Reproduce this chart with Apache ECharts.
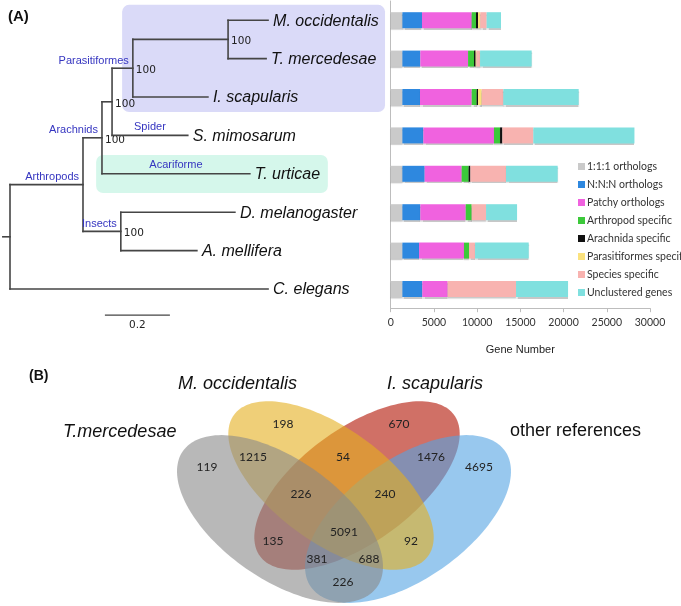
<!DOCTYPE html>
<html><head><meta charset="utf-8">
<script src="https://cdn.jsdelivr.net/npm/echarts@6/dist/echarts.min.js"></script>
<style>html,body{margin:0;padding:0;background:#fff}#c{width:681px;height:606px}</style>
</head><body><div id="c"></div>
<script>
// ---------------- Panel A: stacked bars ----------------
const species = ['M. occidentalis','T. mercedesae','I. scapularis','S. mimosarum','T. urticae','D. melanogaster','A. mellifera','C. elegans'];
const categories = ['1:1:1 orthologs','N:N:N orthologs','Patchy orthologs','Arthropod specific','Arachnida specific','Parasitiformes specific','Species specific','Unclustered genes'];
const ortho111 = [1350,1350,1350,1350,1350,1350,1350,1350];
const orthoNNN = [2270,2080,2040,2430,2580,2080,1930,2310];
const patchy = [5750,5520,5980,8170,4280,5250,5200,2930];
const arthropodSpecific = [500,690,580,700,810,690,580,0];
const arachnidaSpecific = [230,190,150,270,200,0,0,0];
const parasitiformesSpecific = [270,110,430,0,0,0,0,0];
const speciesSpecific = [730,400,2500,3580,4120,1660,700,7910];
const unclustered = [1660,5970,8720,11700,5980,3590,6210,6020];
const xTicks = [0,5000,10000,15000,20000,25000,30000];

// ---------------- Panel A: tree ----------------
const nodeName   = ['root','Arthropods','Arachnids','ParaSpider','Parasitiformes','Mites','Insects',
                    'M. occidentalis','T. mercedesae','I. scapularis','S. mimosarum','T. urticae','D. melanogaster','A. mellifera','C. elegans'];
const nodeParent = [-1,0,1,2,3,4,1,5,5,4,3,2,6,6,0];
const nodeDepth  = [0,0.2246,0.283,0.314,0.378,0.671,0.341,0.794,0.788,0.609,0.547,0.738,0.692,0.575,0.794];
const nodeSupport= [null,null,'100','100','100','100','100',null,null,null,null,null,null,null,null];
const cladeLabels = [ // [text, node index, placement]
  ['Parasitiformes',4,'node'],['Arachnids',2,'node'],['Arthropods',1,'node'],['Insects',6,'node'],
  ['Spider',10,'branch'],['Acariforme',11,'branch']
];
const scaleBarLength = 0.2;

// ---------------- Panel B: Venn ----------------
const vennSets = ['T.mercedesae','M. occidentalis','I. scapularis','other references'];
const vennCounts = [119,198,670,4695,1215,54,1476,226,240,5091,135,92,381,688,226];

// ---------------- layout / style ----------------
const barColors = ['#cacaca','#2e88df','#f062df','#3cc93a','#111111','#fbe27e','#f8b3b0','#80e0df'];
const leafRow = {7:0,8:1,9:2,10:3,11:4,12:5,13:6,14:7};
const rootStub = -0.022;
const boxes = [ // [x0,x1,row0,row1,color]
  [0.345,1.154,-0.40,2.39,'#dadaf8'],
  [0.265,0.978,3.51,4.50,'#d5f7eb']
];
const scaleBarPos = [0.292,7.68];
// ellipse geometry in venn-grid units: [cx, cy, a, b, rotationDeg, fill]
const vennGeom = {
  'I. scapularis':    [2.13,1.205,1.20,0.57, 36,'rgba(177,17,0,0.6)'],
  'other references': [2.64,0.87, 1.185,0.60, 35,'rgba(83,163,227,0.6)'],
  'M. occidentalis':  [1.87,1.205,1.20,0.57,-36,'rgba(228,175,30,0.6)'],
  'T.mercedesae':     [1.36,0.87, 1.185,0.60,-35,'rgba(137,137,137,0.6)']
};
const vennDrawOrder = ['I. scapularis','other references','M. occidentalis','T.mercedesae'];
const vennLabelPos = [[0.63,1.39],[1.39,1.82],[2.55,1.82],[3.35,1.39],[1.09,1.49],[1.99,1.49],[2.87,1.49],
  [1.57,1.12],[2.41,1.12],[2.0,0.74],[1.29,0.65],[2.67,0.65],[1.73,0.47],[2.25,0.47],[1.99,0.24]];

// compute rows of internal nodes
const nodeRow = [];
const children = nodeName.map(()=>[]);
nodeParent.forEach((p,i)=>{ if(p>=0) children[p].push(i); });
function rowOf(i){
  if(nodeRow[i]!==undefined) return nodeRow[i];
  if(children[i].length===0){ nodeRow[i]=leafRow[i]; return nodeRow[i]; }
  const rs = children[i].map(rowOf);
  nodeRow[i] = (Math.min(...rs)+Math.max(...rs))/2;
  return nodeRow[i];
}
nodeName.forEach((_,i)=>rowOf(i));

const LINE = '#454545';
function txt(x,y,text,font,fill,align,valign){
  return {type:'text',style:{x:x,y:y,text:text,font:font,fill:fill,align:align,verticalAlign:valign,textAlign:align,textVerticalAlign:valign}};
}

function renderTree(params, api){
  const i = params.dataIndex;
  const els = [];
  const p = nodeParent[i];
  const d = nodeDepth[i], r = nodeRow[i];
  const pd = p>=0 ? nodeDepth[p] : rootStub;
  const a = api.coord([pd,r]), b = api.coord([d,r]);
  els.push({type:'line',shape:{x1:a[0],y1:a[1],x2:b[0],y2:b[1]},style:{stroke:LINE,lineWidth:1.6,lineCap:'square'}});
  if(children[i].length){
    const rs = children[i].map(c=>nodeRow[c]);
    const t = api.coord([d,Math.min(...rs)]), u = api.coord([d,Math.max(...rs)]);
    els.push({type:'line',shape:{x1:t[0],y1:t[1],x2:u[0],y2:u[1]},style:{stroke:LINE,lineWidth:1.6,lineCap:'square'}});
  } else {
    els.push(txt(b[0]+5,b[1]+1,nodeName[i],'italic 16px "Liberation Sans", Arial, sans-serif','#111','left','middle'));
  }
  if(nodeSupport[i]) els.push(txt(b[0]+3,b[1]+2,nodeSupport[i],'10.5px "DejaVu Sans", sans-serif','#222','left','middle'));
  cladeLabels.forEach(c=>{
    if(c[1]!==i) return;
    if(c[2]==='node') els.push(txt(b[0]-4,b[1]-2,c[0],'11px "Liberation Sans", Arial, sans-serif','#3535c0','right','bottom'));
    else els.push(txt((a[0]+b[0])/2,b[1]-3,c[0],'11px "Liberation Sans", Arial, sans-serif','#3535c0','center','bottom'));
  });
  return {type:'group',children:els};
}
function renderBoxes(params, api){
  const bx = boxes[params.dataIndex];
  const p0 = api.coord([bx[0],bx[2]]), p1 = api.coord([bx[1],bx[3]]);
  return {type:'rect',shape:{x:p0[0],y:p0[1],width:p1[0]-p0[0],height:p1[1]-p0[1],r:7},style:{fill:bx[4]}};
}
function renderScale(params, api){
  const p0 = api.coord(scaleBarPos), p1 = api.coord([scaleBarPos[0]+scaleBarLength,scaleBarPos[1]]);
  return {type:'group',children:[
    {type:'line',shape:{x1:p0[0],y1:p0[1],x2:p1[0],y2:p1[1]},style:{stroke:LINE,lineWidth:1.4}},
    txt((p0[0]+p1[0])/2,p0[1]+5,String(scaleBarLength),'10.5px "DejaVu Sans", sans-serif','#222','center','top')
  ]};
}
function renderVenn(params, api){
  const g = vennGeom[vennDrawOrder[params.dataIndex]];
  const th = g[4]*Math.PI/180, pts=[];
  for(let k=0;k<160;k++){
    const t = k/160*2*Math.PI;
    const x = g[0] + g[2]*Math.cos(t)*Math.cos(th) - g[3]*Math.sin(t)*Math.sin(th);
    const y = g[1] + g[2]*Math.cos(t)*Math.sin(th) + g[3]*Math.sin(t)*Math.cos(th);
    pts.push(api.coord([x,y]));
  }
  return {type:'polygon',shape:{points:pts},style:{fill:g[5]}};
}
function renderVennText(params, api){
  const i = params.dataIndex;
  const p = api.coord(vennLabelPos[i]);
  return txt(p[0],p[1],String(vennCounts[i]),'12px Lato, "Open Sans", sans-serif','#222','center','middle');
}

const barSeries = [ortho111,orthoNNN,patchy,arthropodSpecific,arachnidaSpecific,parasitiformesSpecific,speciesSpecific,unclustered]
  .map((d,k)=>({name:categories[k],type:'bar',stack:'genes',xAxisIndex:1,yAxisIndex:1,barWidth:16,data:d,
    itemStyle:{color:barColors[k],shadowColor:'rgba(0,0,0,0.22)',shadowOffsetY:1.5,shadowBlur:1}}));

const chart = echarts.init(document.getElementById('c'),null,{renderer:'canvas'});
chart.setOption({
  animation:false,
  backgroundColor:'#fff',
  grid:[
    {left:3.5,top:1,width:396.5,height:307.2},
    {left:390.7,top:1,width:259.3,height:307.2},
    {left:144,top:380,width:400,height:226}
  ],
  xAxis:[
    {gridIndex:0,type:'value',min:-0.02,max:1.2,show:false},
    {gridIndex:1,type:'value',min:xTicks[0],max:xTicks[xTicks.length-1],interval:xTicks[1]-xTicks[0],
      axisLine:{show:true,lineStyle:{color:'#bdbdbd'}},axisTick:{show:true,length:4,lineStyle:{color:'#bdbdbd'}},
      splitLine:{show:false},axisLabel:{color:'#333',fontSize:10.5,fontFamily:'Lato',margin:9,formatter:v=>String(v)},
      name:'Gene Number',nameLocation:'middle',nameGap:36,nameTextStyle:{fontFamily:'Liberation Sans',fontSize:11,color:'#222'}},
    {gridIndex:2,type:'value',min:0,max:4,show:false}
  ],
  yAxis:[
    {gridIndex:0,type:'value',min:-0.5,max:7.5,inverse:true,show:false},
    {gridIndex:1,type:'category',data:species,inverse:true,axisLine:{lineStyle:{color:'#bdbdbd'}},
      axisTick:{length:4,lineStyle:{color:'#bdbdbd'}},axisLabel:{show:false}},
    {gridIndex:2,type:'value',min:0,max:2.26,show:false}
  ],
  legend:{data:categories,orient:'vertical',left:573,top:156,itemWidth:7,itemHeight:7,itemGap:7,icon:'rect',
    textStyle:{fontFamily:'Lato',fontSize:10.5,color:'#333',lineHeight:11,padding:[0,0,0,-3]}},
  graphic:[
    {type:'text',left:8,top:9,style:{text:'(A)',font:'bold 15px "Liberation Sans", Arial',fill:'#111'}},
    {type:'text',left:29,top:369,style:{text:'(B)',font:'bold 14px "Liberation Sans", Arial',fill:'#111'}},
    {type:'text',left:63,top:423,style:{text:vennSets[0],font:'italic 18px "Liberation Sans", Arial',fill:'#111'}},
    {type:'text',left:178,top:375,style:{text:vennSets[1],font:'italic 18px "Liberation Sans", Arial',fill:'#111'}},
    {type:'text',left:387,top:375,style:{text:vennSets[2],font:'italic 18px "Liberation Sans", Arial',fill:'#111'}},
    {type:'text',left:510,top:422,style:{text:vennSets[3],font:'18px "Liberation Sans", Arial',fill:'#111'}}
  ],
  series:[
    {type:'custom',xAxisIndex:0,yAxisIndex:0,z:1,data:boxes.map((_,i)=>i),renderItem:renderBoxes,silent:true},
    {type:'custom',xAxisIndex:0,yAxisIndex:0,z:3,data:nodeName.map((_,i)=>i),renderItem:renderTree,silent:true},
    {type:'custom',xAxisIndex:0,yAxisIndex:0,z:3,data:[0],renderItem:renderScale,silent:true},
    ...barSeries,
    {type:'custom',xAxisIndex:2,yAxisIndex:2,z:2,data:vennDrawOrder.map((_,i)=>i),renderItem:renderVenn,silent:true},
    {type:'custom',xAxisIndex:2,yAxisIndex:2,z:5,data:vennCounts.map((_,i)=>i),renderItem:renderVennText,silent:true}
  ]
});
</script></body></html>
